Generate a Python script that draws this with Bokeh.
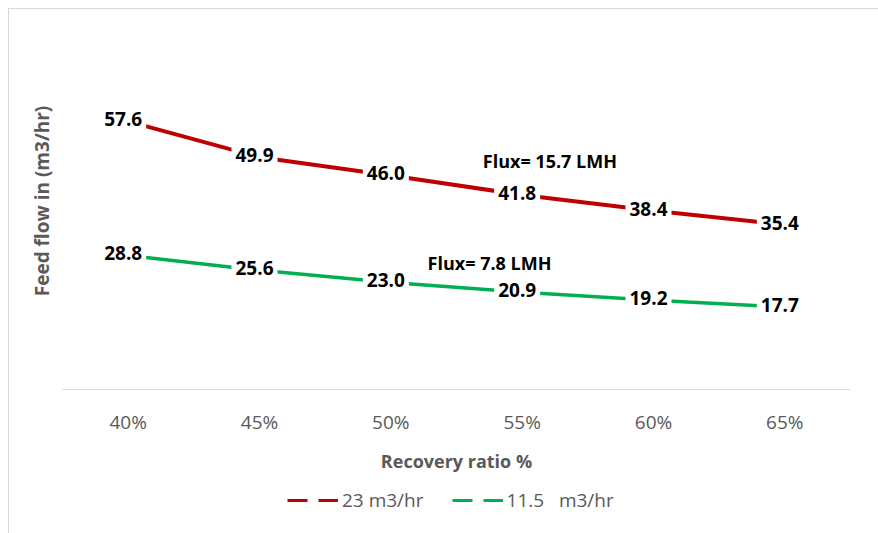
from bokeh.plotting import figure
from bokeh.layouts import column
from bokeh.models import (ColumnDataSource, FactorRange, Range1d, FixedTicker,
                          Legend, LegendItem, Label)
from bokeh.core.properties import value
from bokeh.embed import file_html
from bokeh.resources import INLINE

# Recovery ratio categories and feed flow for the two permeate flows
recovery = ["40%", "45%", "50%", "55%", "60%", "65%"]
flow_23 = [57.6, 49.9, 46.0, 41.8, 38.4, 35.4]
flow_11_5 = [28.8, 25.6, 23.0, 20.9, 19.2, 17.7]

series_names = ["23 m3/hr", "11.5   m3/hr"]
flux_notes = ["Flux= 15.7 LMH", "Flux= 7.8 LMH"]

RED = "#c00000"
GREEN = "#00b050"
GREY = "#595959"
FONT = "Open Sans"
W = 869
NAN = float("nan")

src_red = ColumnDataSource(dict(x=recovery, y=flow_23,
                                lbl=[f"{v:.1f}" for v in flow_23]))
src_green = ColumnDataSource(dict(x=recovery, y=flow_11_5,
                                  lbl=[f"{v:.1f}" for v in flow_11_5]))

p = figure(width=W, height=471, x_range=FactorRange(*recovery),
           y_range=Range1d(0, 81), output_backend="svg", toolbar_location=None,
           min_border_left=53, min_border_right=28, min_border_top=3,
           min_border_bottom=91)
p.outline_line_color = None
p.xgrid.visible = False
p.ygrid.visible = False
p.background_fill_color = "white"
p.border_fill_color = "white"

# series lines
p.line("x", "y", source=src_red, line_color=RED, line_width=4)
p.line("x", "y", source=src_green, line_color=GREEN, line_width=3.5)

# value labels with white boxes on top of the lines
for src in (src_red, src_green):
    p.text("x", "y", text="lbl", source=src, text_align="center",
           text_baseline="middle", x_offset=-5, y_offset=-2,
           text_font=value(FONT), text_font_style="bold",
           text_font_size="19px", text_color="black",
           background_fill_color="white", padding=4)

# flux annotations
p.add_layout(Label(x=3.2, y=49.2, text=flux_notes[0], text_font=FONT,
                   text_font_style="bold", text_font_size="18px",
                   text_color="black", text_baseline="middle"))
p.add_layout(Label(x=2.78, y=27.1, text=flux_notes[1], text_font=FONT,
                   text_font_style="bold", text_font_size="18px",
                   text_color="black", text_baseline="middle"))

# x axis
xa = p.xaxis[0]
xa.axis_line_color = "#d9d9d9"
xa.axis_line_width = 1.2
xa.major_tick_line_color = None
xa.minor_tick_line_color = None
xa.major_tick_out = 0
xa.major_label_standoff = 19
xa.major_label_text_font = FONT
xa.major_label_text_font_size = "19px"
xa.major_label_text_color = GREY
xa.axis_label = "Recovery ratio %"
xa.axis_label_standoff = 11
xa.axis_label_text_font = FONT
xa.axis_label_text_font_style = "bold"
xa.axis_label_text_font_size = "18px"
xa.axis_label_text_color = GREY

# y axis: title only
ya = p.yaxis[0]
ya.ticker = FixedTicker(ticks=[])
ya.axis_line_color = None
ya.major_tick_line_color = None
ya.minor_tick_line_color = None
ya.major_tick_out = 0
ya.major_label_standoff = 0
ya.axis_label = "Feed flow in (m3/hr)"
ya.axis_label_standoff = 8
ya.axis_label_text_font = FONT
ya.axis_label_text_font_style = "bold"
ya.axis_label_text_font_size = "19px"
ya.axis_label_text_color = GREY

# legend strip with dashed keys (key renderers hold no visible points)
lg = figure(width=W, height=53, x_range=Range1d(0, 1), y_range=Range1d(0, 1),
            output_backend="svg", toolbar_location=None,
            min_border_left=0, min_border_right=0, min_border_top=0,
            min_border_bottom=0)
lg.axis.visible = False
lg.grid.visible = False
lg.outline_line_color = None
lg.background_fill_color = "white"
lg.border_fill_color = "white"
leg_red = lg.line(x=[NAN], y=[NAN], line_color=RED, line_width=3,
                  line_dash="20 11")
leg_green = lg.line(x=[NAN], y=[NAN], line_color=GREEN, line_width=3,
                    line_dash="20 11")
legend = Legend(items=[LegendItem(label=series_names[0], renderers=[leg_red]),
                       LegendItem(label=series_names[1], renderers=[leg_green])],
                orientation="horizontal", location=(225, 20),
                glyph_width=51, glyph_height=20, label_standoff=4, spacing=28,
                label_text_font=FONT, label_text_font_size="19px",
                label_text_color=GREY, border_line_color=None,
                background_fill_alpha=0, margin=0, padding=4)
lg.add_layout(legend, "center")

layout = column(p, lg, spacing=0,
                styles={"border-left": "1px solid #d9d9d9",
                        "border-top": "1px solid #d9d9d9",
                        "margin-left": "8px", "margin-top": "8px"})

open("out.html", "w").write(file_html(layout, INLINE))
